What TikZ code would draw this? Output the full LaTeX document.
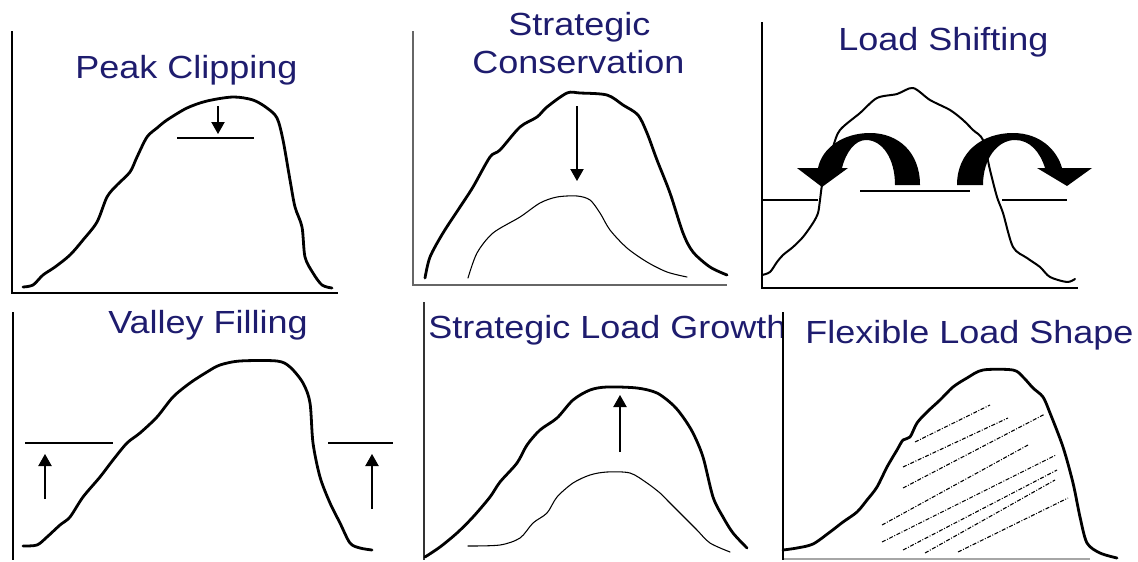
\documentclass[tikz,border=0pt]{standalone}
\usepackage{fontspec}
\setmainfont{Liberation Sans}
\usetikzlibrary{arrows.meta}
\definecolor{titleblue}{RGB}{30,28,110}
\tikzset{
  ttl/.style={anchor=base west, inner sep=0pt, text=titleblue, font=\fontsize{24pt}{28pt}\selectfont},
  thickcurve/.style={line width=2.1pt, line join=round, line cap=round},
  midcurve/.style={line width=1.5pt, line join=round, line cap=round},
  thincurve/.style={line width=0.8pt, line join=round, line cap=round},
  axisline/.style={line width=1.1pt},
  grayaxis/.style={line width=0.9pt, draw=black!60},
  levelline/.style={line width=0.9pt},
  arr/.style={line width=0.8pt, -{Triangle[length=9pt,width=10pt]}},
  hatch/.style={line width=0.8pt, dash pattern=on 3pt off 1.2pt on 0.7pt off 1.2pt}
}
\newcommand{\sttl}[1]{\scalebox{1.125}[1]{#1}}
\begin{document}
\begin{tikzpicture}[x=0.75pt,y=-0.75pt]
\useasboundingbox (0,0) rectangle (1138,561);

% ---------- Panel 1: Peak Clipping ----------
\draw[axisline] (12,31) -- (12,293) -- (338,293);
\node[ttl] (t1) at (75,78) {\sttl{Peak Clipping}};
\draw[thickcurve] plot[smooth, tension=0.5] coordinates {
(23,287) (33,285) (43,275) (55,267) (70,255) (83,240) (97,222) (107,197)
(117,185) (130,172) (137,157) (147,137) (157,128) (167,120) (187,108)
(207,101) (233,97) (253,100) (267,108) (277,118) (283,140) (290,180)
(295,207) (302,227) (305,257) (313,273) (322,285) (332,288)};
\draw[levelline] (177,138) coordinate (pcL) -- (254,138) coordinate (pcR);
\coordinate (pcA) at (218,106);
\coordinate (pcB) at (218,134);
\draw[arr] (pcA) -- (pcB);

% ---------- Panel 2: Strategic Conservation ----------
\draw[grayaxis] (413,31) -- (413,285) -- (727,285);
\node[ttl] (t2a) at (508,35) {\sttl{Strategic}};
\node[ttl] (t2b) at (472,73) {\sttl{Conservation}};
\draw[thickcurve] plot[smooth, tension=0.5] coordinates {
(425,278) (430,257) (443,233) (460,207) (473,187) (490,157) (500,150)
(520,127) (537,117) (547,107) (567,93) (580,93) (607,95) (623,105)
(638,115) (647,133) (657,160) (670,193) (683,233) (693,252) (710,267) (727,275)};
\draw[thincurve] plot[smooth, tension=0.5] coordinates {
(468,278) (477,253) (493,233) (520,217) (540,203) (557,197) (577,196)
(590,200) (600,213) (610,230) (627,248) (647,262) (667,272) (687,277)};
\coordinate (scA) at (577,106);
\coordinate (scB) at (577,181);
\draw[arr] (scA) -- (scB);

% ---------- Panel 3: Load Shifting ----------
\draw[axisline] (762,22) -- (762,288) -- (1078,288);
\node[ttl] (t3) at (838,50) {\sttl{Load Shifting}};
\draw[levelline] (762,200) -- (818,200);
\draw[levelline] (860,191) -- (970,191);
\draw[levelline] (1002,200) -- (1067,200);
\draw[midcurve] plot[smooth, tension=0.5] coordinates {
(762,275) (770,272) (777,262) (783,255) (793,247) (803,237) (813,223)
(818,213) (820,200) (823,180) (833,147) (840,130) (860,113) (877,98)
(897,94) (913,88) (930,100) (950,110) (963,120) (973,130) (983,140)
(990,170) (997,197) (1003,213) (1013,247) (1027,258) (1040,267)
(1050,277) (1067,282) (1075,279)};
\fill (920,185) .. controls (920,152) and (898,133) .. (870,133)
  .. controls (843,133) and (822,148) .. (818,168) -- (797,168) -- (822,187)
  -- (848,168) -- (842,168) .. controls (846,152) and (855,140) .. (866,140)
  .. controls (882,140) and (895,158) .. (895,185) -- cycle;
\fill (957,185) .. controls (957,152) and (982,133) .. (1013,133)
  .. controls (1040,133) and (1057,150) .. (1062,168) -- (1092,168) -- (1067,186)
  -- (1037,168) -- (1045,168) .. controls (1040,152) and (1030,140) .. (1015,140)
  .. controls (998,140) and (983,158) .. (983,185) -- cycle;

% ---------- Panel 4: Valley Filling ----------
\draw[axisline] (13,312) -- (13,560);
\node[ttl] (t4) at (108,333) {\sttl{Valley Filling}};
\draw[thickcurve] plot[smooth, tension=0.5] coordinates {
(23,546) (37,545) (47,537) (60,525) (70,517) (83,497) (100,477) (113,460)
(127,443) (140,433) (157,417) (173,397) (190,383) (207,372) (220,365)
(240,361) (277,361) (290,367) (303,383) (310,403) (313,443) (320,477)
(330,503) (340,523) (350,543) (360,548) (372,550)};
\draw[levelline] (25,443) -- (113,443);
\draw[levelline] (328,443) -- (393,443);
\coordinate (vfA1) at (45,499);
\coordinate (vfB1) at (45,454);
\coordinate (vfA2) at (372,509);
\coordinate (vfB2) at (372,454);
\draw[arr] (vfA1) -- (vfB1);
\draw[arr] (vfA2) -- (vfB2);

% ---------- Panel 5: Strategic Load Growth ----------
\draw[grayaxis, draw=black!80] (424,302) -- (424,560);
\node[ttl] (t5) at (428,338) {\sttl{Strategic Load Growth}};
\draw[thickcurve] plot[smooth, tension=0.5] coordinates {
(425,557) (440,547) (457,533) (473,517) (490,497) (500,482) (517,463)
(527,445) (540,430) (557,418) (573,400) (590,390) (607,387) (637,388)
(657,393) (673,405) (683,417) (693,433) (703,457) (713,497) (723,517)
(733,533) (747,548)};
\draw[thincurve] plot[smooth, tension=0.5] coordinates {
(468,546) (500,545) (520,538) (533,523) (547,513) (557,497) (573,483)
(590,475) (607,472) (630,473) (647,483) (660,493) (667,500) (677,510)
(687,520) (697,530) (710,543) (730,552)};
\coordinate (lgA) at (620,452);
\coordinate (lgB) at (620,395);
\draw[arr] (lgA) -- (lgB);

% ---------- Panel 6: Flexible Load Shape ----------
\draw[grayaxis, draw=black!35] (783,559) -- (1090,559);
\draw[axisline] (783,312) -- (783,560);
\node[ttl] (t6) at (805,343) {\sttl{Flexible Load Shape}};
\draw[thickcurve] plot[smooth, tension=0.5] coordinates {
(783,550) (797,548) (813,544) (830,532) (843,522) (857,512) (867,500)
(877,487) (887,467) (897,450) (903,440) (910,437) (917,423) (927,412)
(940,400) (953,387) (967,378) (983,370) (1013,370) (1023,377) (1033,388)
(1043,397) (1050,413) (1063,447) (1073,483) (1080,517) (1087,543)
(1100,553) (1117,558)};
\draw[hatch] (915,442) -- (990,405);
\draw[hatch] (903,467) -- (1008,418);
\draw[hatch] (903,488) -- (1045,414);
\draw[hatch] (882,525) -- (1028,445);
\draw[hatch] (882,542) -- (1056,455);
\draw[hatch] (903,550) -- (1057,470);
\draw[hatch] (925,553) -- (1055,480);
\draw[hatch] (958,552) -- (1068,498);
\end{tikzpicture}
\end{document}
